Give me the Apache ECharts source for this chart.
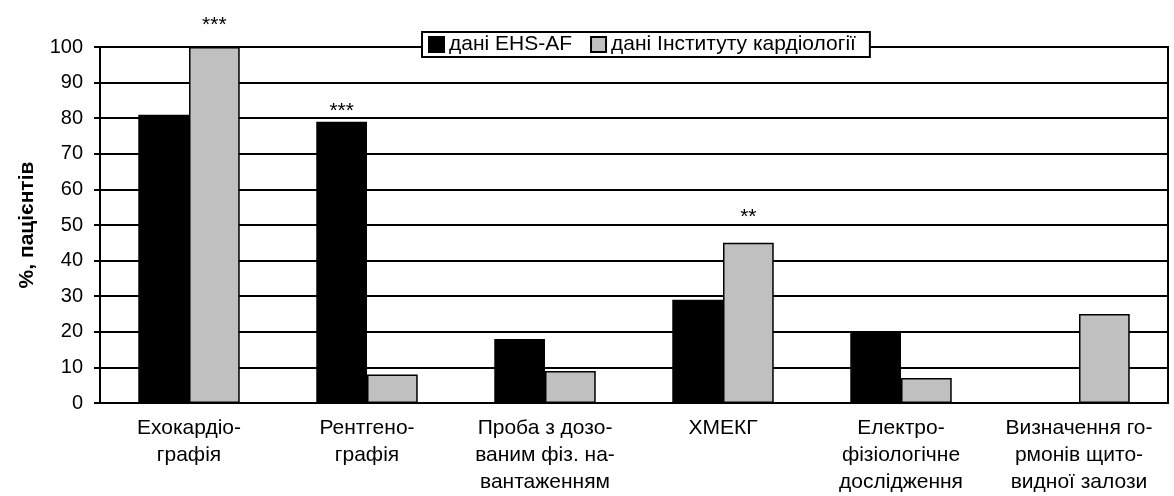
<!DOCTYPE html>
<html>
<head>
<meta charset="utf-8">
<script src="https://cdn.jsdelivr.net/npm/echarts@6/dist/echarts.min.js"></script>
<style>
  html, body { margin: 0; padding: 0; background: #fff; }
  #chart { width: 1174px; height: 496px; }
</style>
</head>
<body>
<div id="chart"></div>
<script>
// категорії
var categories = [
  "Ехокардіо-\nграфія",
  "Рентгено-\nграфія",
  "Проба з дозо-\nваним фіз. на-\nвантаженням",
  "ХМЕКГ",
  "Електро-\nфізіологічне\nдослідження",
  "Визначення го-\nрмонів щито-\nвидної залози"
];
var seriesNames = ["дані EHS-AF", "дані Інституту кардіології"];
var ehsValues = [81, 79, 18, 29, 20, 0];
var instValues = [100, 8, 9, 45, 7, 25];
// позначки достовірності
var ehsMarks = ["", "***", "", "", "", ""];
var instMarks = ["***", "", "", "**", "", ""];
var yTicks = [0, 10, 20, 30, 40, 50, 60, 70, 80, 90, 100];

// відступ позначок над стовпчиками (px)
var ehsMarkGap = [4, 0, 4, 4, 4, 4];
var instMarkGap = [11, 4, 4, 15, 4, 4];

var myChart = echarts.init(document.getElementById("chart"));

function buildData(values, gaps) {
  return values.map(function (v, i) {
    return { value: v, label: { distance: gaps[i] } };
  });
}

function markLabel(marks) {
  return {
    show: true,
    position: "top",
    color: "#000",
    fontSize: 21,
    fontFamily: "Liberation Sans",
    formatter: function (p) { return marks[p.dataIndex]; }
  };
}

var option = {
  animation: false,
  textStyle: { fontFamily: "Liberation Sans", color: "#000" },
  grid: {
    left: 100, right: 6, top: 47, bottom: 92,
    show: true, borderColor: "#000", borderWidth: 2
  },
  legend: {
    data: seriesNames,
    icon: "rect",
    left: 422, top: 32,
    backgroundColor: "#fff",
    borderColor: "#000",
    borderWidth: 2,
    padding: [2, 14, 2, 6],
    itemWidth: 15, itemHeight: 15,
    itemGap: 18,
    textStyle: { fontSize: 21, color: "#000" }
  },
  xAxis: {
    type: "category",
    data: categories,
    axisLine: { lineStyle: { color: "#000", width: 2 } },
    axisTick: { show: false },
    axisLabel: {
      interval: 0, margin: 12, fontSize: 21, lineHeight: 27, color: "#000"
    }
  },
  yAxis: {
    type: "value",
    min: 0, max: 100, interval: 10,
    name: "%, пацієнтів",
    nameLocation: "middle",
    nameGap: 62,
    nameTextStyle: { fontSize: 21, fontWeight: "bold", color: "#000" },
    axisLine: { show: true, lineStyle: { color: "#000", width: 2 } },
    axisTick: { show: true, length: 6, lineStyle: { color: "#000", width: 2 } },
    axisLabel: {
      fontSize: 20, color: "#000", margin: 17,
      formatter: function (v) { return yTicks.indexOf(v) >= 0 ? String(v) : ""; }
    },
    splitLine: { lineStyle: { color: "#000", width: 2 } }
  },
  series: [
    {
      name: seriesNames[0],
      type: "bar",
      data: buildData(ehsValues, ehsMarkGap),
      barGap: "0%",
      barCategoryGap: "43%",
      itemStyle: { color: "#000", borderColor: "#000", borderWidth: 1.5 },
      label: markLabel(ehsMarks)
    },
    {
      name: seriesNames[1],
      type: "bar",
      data: buildData(instValues, instMarkGap),
      itemStyle: { color: "#c0c0c0", borderColor: "#000", borderWidth: 1.5 },
      label: markLabel(instMarks)
    }
  ]
};

myChart.setOption(option);
</script>
</body>
</html>
